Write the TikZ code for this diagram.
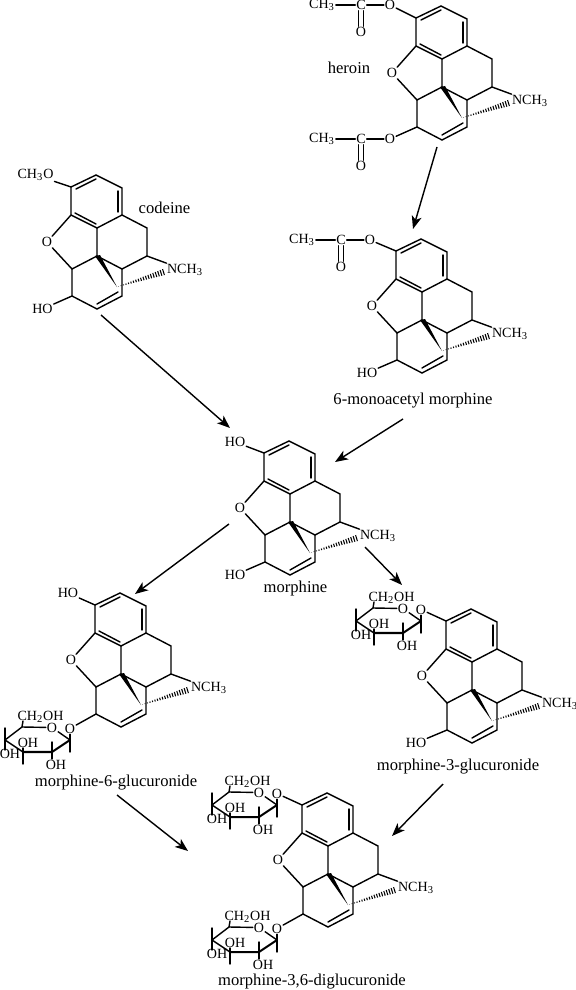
\documentclass[tikz,border=0pt]{standalone}
\usepackage{fontspec}
\setmainfont{Liberation Serif}
\usetikzlibrary{arrows.meta,calc}
\tikzset{
  bond/.style={line width=0.8pt,line cap=round},
  wbond/.style={line width=1.15pt,line cap=round},
  atom/.style={font=\fontsize{8}{9}\selectfont,inner sep=0.4pt},
  caption/.style={font=\fontsize{9.45}{10}\selectfont,inner sep=0pt},
  reaction/.style={-{Stealth[length=2.6mm,width=2mm,inset=0.7mm]},line width=0.8pt},
  pics/skeleton/.style={code={
    \coordinate (-a) at (0,0);
    \coordinate (-b) at (25,-12);
    \coordinate (-c) at (51,1);
    \coordinate (-d) at (51,28);
    \coordinate (-e) at (26,41);
    \coordinate (-f) at (0,28);
    \node[atom] (-o) at (-24,55) {O};
    \coordinate (-g) at (1,82);
    \coordinate (-h) at (26,69);
    \coordinate (-i) at (51,82);
    \coordinate (-j) at (76,69);
    \coordinate (-k) at (76,41);
    \coordinate (-l) at (1,109);
    \coordinate (-m) at (26,122);
    \coordinate (-p) at (51,109);
    \coordinate (-q) at (46,100);
    \node[atom] (-n) at (114,83) {NCH\textsubscript{3}};
    \draw[bond] (-f) -- (-a) -- (-b) -- (-c) -- (-d) -- (-e) -- (-f);
    \draw[bond] (5,2) -- (25,-8);
    \draw[bond] (47,4) -- (47,25);
    \draw[bond] (4,26) -- (25,37);
    \draw[bond] (-f) -- (-o) -- (-g) -- (-h) -- (-e);
    \draw[bond] (-d) -- (-k) -- (-j) -- (-i) -- (-h);
    \draw[bond] (-j) -- (-n);
    \draw[bond] (-g) -- (-l) -- (-m) -- (-p) -- (-i);
    \draw[bond] (26,117) -- (47,105);
    \fill (-h) ++(-2,0) -- ++(5,-1) -- (-q) -- cycle;
    \foreach \t in {0.03,0.08,...,0.96}
      \draw[line width=0.6pt] ({46+50*\t-1*\t},{100-16*\t-3.2*\t}) -- ({46+50*\t+1*\t},{100-16*\t+3.2*\t});
  }},
  pics/acetyl/.style={code={
    \node[atom] (-o) at (0,0) {O};
    \node[atom] (-co) at (-29,0) {C};
    \node[atom] (-me) at (-68,0) {CH\textsubscript{3}};
    \node[atom] (-dbl) at (-29,27) {O};
    \draw[bond] (-me) -- (-co) -- (-o);
    \draw[bond] ([xshift=-1.3pt]-co.south) -- ([xshift=-1.3pt]-dbl.north);
    \draw[bond] ([xshift=1.3pt]-co.south) -- ([xshift=1.3pt]-dbl.north);
  }},
  pics/sugar/.style={code={
    \coordinate (-c) at (0,0);
    \coordinate (-d) at (-18,12);
    \coordinate (-e) at (-47,12);
    \coordinate (-a) at (-65,0);
    \coordinate (-b) at (-48,-13);
    \node[atom] (-ro) at (-18,-12.5) {O};
    \node[atom] (-go) at (0,-11.5) {O};
    \node[atom] (-ch) at (-29.5,-23) {CH\textsubscript{2}OH};
    \node[atom] (-oh2) at (-42,2.5) {OH};
    \node[atom] (-oh3) at (-60,13.5) {OH};
    \node[atom] (-oh4) at (-14,25) {OH};
    \draw[bond] (-c) -- (-ro) -- (-b) -- (-a) -- (-e);
    \draw[wbond] (-e) -- (-d) -- (-c);
    \draw[bond] (-b) -- (-47,-19);
    \draw[bond] (-65,-12) -- (-65,10);
    \draw[bond] (-47,8) -- (-47,24);
    \draw[bond] (-18,2) -- (-18,19);
    \draw[bond] (-go) -- (0,12);
  }}
}
\begin{document}
\begin{tikzpicture}[x=0.02cm,y=-0.02cm]
\useasboundingbox (0,0) rectangle (575,990);
\pic (her) at (416,18) {skeleton};
\pic (cod) at (71,187) {skeleton};
\pic (mon) at (396,251) {skeleton};
\pic (mor) at (264,453) {skeleton};
\pic (msx) at (95,605) {skeleton};
\pic (mth) at (446,621) {skeleton};
\pic (dig) at (302,805) {skeleton};
\pic (herac) at (390,5) {acetyl};
\pic (herbc) at (390,139) {acetyl};
\pic (monac) at (370,240) {acetyl};
\pic (msxsu) at (70,740) {sugar};
\pic (mthsu) at (421,621) {sugar};
\pic (digsa) at (277,805) {sugar};
\pic (digsb) at (277,940) {sugar};
\draw[bond] (herac-o) -- (her-a);
\draw[bond] (herbc-o) -- (her-l);
\draw[bond] (monac-o) -- (mon-a);
\draw[bond] (msxsu-go) -- (msx-l);
\draw[bond] (mthsu-go) -- (mth-a);
\draw[bond] (digsa-go) -- (dig-a);
\draw[bond] (digsb-go) -- (dig-l);
\node[atom] (codme) at (35.5,175) {CH\textsubscript{3}O};
\node[atom] (codho) at (42.5,309) {HO};
\node[atom] (monho) at (367,373) {HO};
\node[atom] (morhoa) at (235,442) {HO};
\node[atom] (morhob) at (235,575) {HO};
\node[atom] (msxho) at (68,593) {HO};
\node[atom] (mthho) at (416,743) {HO};
\draw[bond] (codme) -- (cod-a);
\draw[bond] (codho) -- (cod-l);
\draw[bond] (monho) -- (mon-l);
\draw[bond] (morhoa) -- (mor-a);
\draw[bond] (morhob) -- (mor-l);
\draw[bond] (msxho) -- (msx-a);
\draw[bond] (mthho) -- (mth-l);
\node[caption] (herlab) at (349,68) {heroin};
\node[caption] (codlab) at (164.5,208) {codeine};
\node[caption] (monlab) at (413,401) {6-monoacetyl morphine};
\node[caption] (morlab) at (295.5,588) {morphine};
\node[caption] (msxlab) at (116,783) {morphine-6-glucuronide};
\node[caption] (mthlab) at (458,767) {morphine-3-glucuronide};
\node[caption] (diglab) at (312,982) {morphine-3,6-diglucuronide};
\coordinate (ra) at (437,147);
\coordinate (rb) at (413,229);
\coordinate (rc) at (101,315);
\coordinate (rd) at (230,428);
\coordinate (re) at (403,419);
\coordinate (rf) at (335,462);
\coordinate (rg) at (229,524);
\coordinate (rh) at (135,594);
\coordinate (ri) at (365,547);
\coordinate (rj) at (402,585);
\coordinate (rk) at (117,795);
\coordinate (rl) at (188,851);
\coordinate (rm) at (443,784);
\coordinate (rn) at (392,836);
\draw[reaction] (ra) -- (rb);
\draw[reaction] (rc) -- (rd);
\draw[reaction] (re) -- (rf);
\draw[reaction] (rg) -- (rh);
\draw[reaction] (ri) -- (rj);
\draw[reaction] (rk) -- (rl);
\draw[reaction] (rm) -- (rn);
\end{tikzpicture}
\end{document}
